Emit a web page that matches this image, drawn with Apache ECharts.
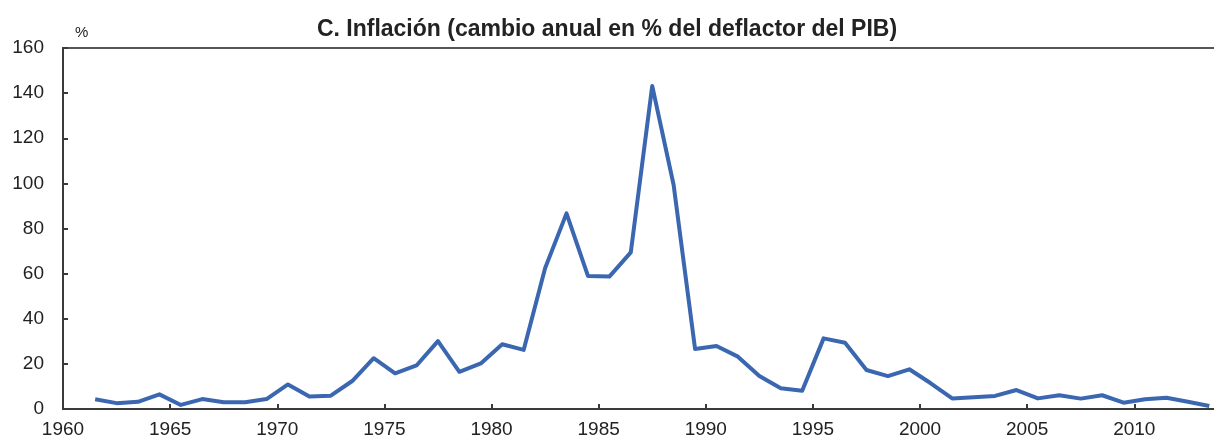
<!DOCTYPE html>
<html>
<head>
<meta charset="utf-8">
<script src="https://cdn.jsdelivr.net/npm/echarts@6/dist/echarts.min.js"></script>
<style>
  html, body { margin: 0; padding: 0; background: #fff; }
  #chart { width: 1214px; height: 438px; }
</style>
</head>
<body>
<div id="chart"></div>
<script>
// años y tasa de inflación (cambio anual en % del deflactor del PIB)
const years = [1961, 1962, 1963, 1964, 1965, 1966, 1967, 1968, 1969, 1970,
  1971, 1972, 1973, 1974, 1975, 1976, 1977, 1978, 1979, 1980,
  1981, 1982, 1983, 1984, 1985, 1986, 1987, 1988, 1989, 1990,
  1991, 1992, 1993, 1994, 1995, 1996, 1997, 1998, 1999, 2000,
  2001, 2002, 2003, 2004, 2005, 2006, 2007, 2008, 2009, 2010,
  2011, 2012, 2013];
const inflation = [4.3, 2.6, 3.2, 6.5, 1.8, 4.4, 3.0, 3.0, 4.4, 10.9,
  5.5, 5.9, 12.4, 22.5, 15.8, 19.3, 30.1, 16.5, 20.2, 28.7,
  26.2, 62.4, 86.7, 59.0, 58.7, 69.4, 143.2, 99.3, 26.6, 27.9,
  23.2, 14.6, 9.2, 8.1, 31.3, 29.4, 17.3, 14.6, 17.6, 11.4,
  4.7, 5.2, 5.8, 8.4, 4.7, 6.1, 4.6, 6.1, 2.8, 4.3,
  5.0, 3.2, 1.3];
const yTicks = [0, 20, 40, 60, 80, 100, 120, 140, 160];

const chart = echarts.init(document.getElementById('chart'));
const axisColor = '#3a3a3a';
const textColor = '#222';
const font = 'Liberation Sans, Arial, sans-serif';

chart.setOption({
  animation: false,
  title: {
    text: 'C. Inflación (cambio anual en % del deflactor del PIB)',
    left: 'center',
    top: 13,
    textStyle: { fontFamily: font, fontSize: 23, fontWeight: 'bold', color: textColor }
  },
  grid: {
    left: 63,
    right: -6,
    top: 48,
    bottom: 29,
    outerBoundsMode: 'none',
    containLabel: false,
    show: true,
    borderColor: '#555',
    borderWidth: 2
  },
  xAxis: {
    type: 'value',
    min: 1960,
    max: 2014,
    interval: 5,
    axisLine: { lineStyle: { color: axisColor, width: 2 } },
    axisTick: { inside: true, length: 5, lineStyle: { color: axisColor, width: 2 } },
    splitLine: { show: false },
    axisLabel: {
      margin: 11,
      fontFamily: font,
      fontSize: 19,
      color: textColor,
      showMaxLabel: false,
      formatter: v => String(v)
    }
  },
  yAxis: {
    type: 'value',
    min: yTicks[0],
    max: yTicks[yTicks.length - 1],
    interval: 20,
    name: '%',
    nameLocation: 'end',
    nameGap: 8,
    nameTextStyle: { fontFamily: font, fontSize: 15, color: textColor, align: 'left', padding: [0, 0, 0, 12] },
    axisLine: { show: true, lineStyle: { color: axisColor, width: 2 } },
    axisTick: { show: true, inside: true, length: 5, lineStyle: { color: axisColor, width: 2 } },
    splitLine: { show: false },
    axisLabel: { margin: 19, fontFamily: font, fontSize: 19, color: textColor }
  },
  series: [{
    type: 'line',
    // valor anual dibujado a mitad de año
    data: years.map((y, i) => [y + 0.5, inflation[i]]),
    symbol: 'none',
    lineStyle: { color: '#3b67b0', width: 4, join: 'round' }
  }]
});
</script>
</body>
</html>
